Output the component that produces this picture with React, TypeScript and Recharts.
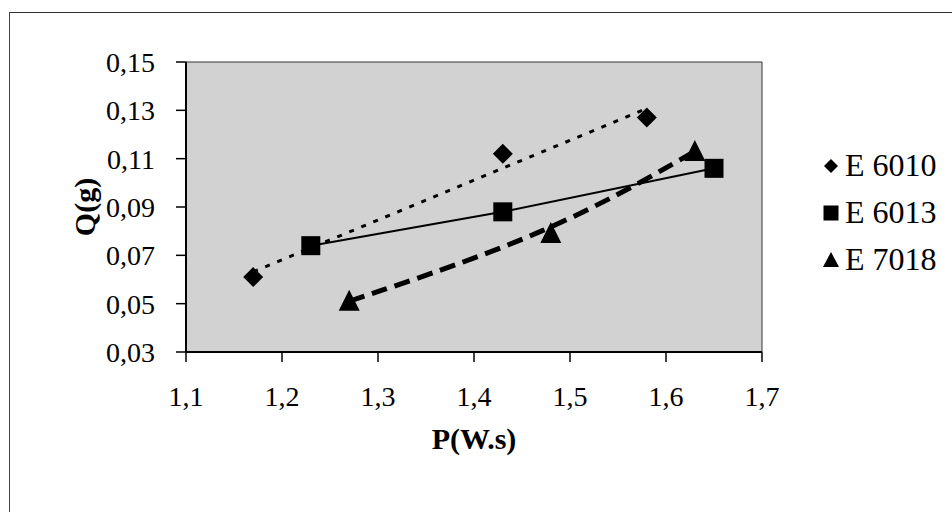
import React from 'react';
import { ScatterChart, Scatter, XAxis, YAxis, ReferenceArea, Legend } from 'recharts';

const xTicks = [1.1, 1.2, 1.3, 1.4, 1.5, 1.6, 1.7];
const yTicks = [0.03, 0.05, 0.07, 0.09, 0.11, 0.13, 0.15];

const seriesNames = ['E 6010', 'E 6013', 'E 7018'];

const e6010P = [1.17, 1.43, 1.58];
const e6010Q = [0.061, 0.112, 0.127];
const e6013P = [1.23, 1.43, 1.65];
const e6013Q = [0.074, 0.088, 0.106];
const e7018P = [1.27, 1.48, 1.63];
const e7018Q = [0.051, 0.079, 0.113];

const toRows = (ps: number[], qs: number[]) => ps.map((p, i) => ({ p, q: qs[i] }));
const e6010 = toRows(e6010P, e6010Q);
const e6013 = toRows(e6013P, e6013Q);
const e7018 = toRows(e7018P, e7018Q);

const FONT = "'Liberation Serif', 'Times New Roman', serif";
const fmt = (v: number, d: number) => v.toFixed(d).replace('.', ',');

const Diamond = (props: any) => {
  const { cx, cy } = props;
  const r = 10;
  return <polygon points={`${cx},${cy - r} ${cx + r},${cy} ${cx},${cy + r} ${cx - r},${cy}`} fill="#000" />;
};
const Square = (props: any) => {
  const { cx, cy } = props;
  const h = 9.5;
  return <rect x={cx - h} y={cy - h} width={2 * h} height={2 * h} fill="#000" />;
};
const Triangle = (props: any) => {
  const { cx, cy } = props;
  const w = 10.5;
  const h = 19;
  return <polygon points={`${cx},${cy - h / 2 - 2} ${cx + w},${cy + h / 2} ${cx - w},${cy + h / 2}`} fill="#000" />;
};

const legendIcon = (i: number) => {
  if (i === 0) return <polygon points="8,1 15,8 8,15 1,8" fill="#000" />;
  if (i === 1) return <rect x="0.5" y="0.5" width="15" height="15" fill="#000" />;
  return <polygon points="8,0 16,15 0,15" fill="#000" />;
};

const LegendContent = () => (
  <div style={{ fontFamily: FONT, fontSize: 32, color: '#000' }}>
    {seriesNames.map((n, i) => (
      <div key={n} style={{ display: 'flex', alignItems: 'center', height: 47, whiteSpace: 'nowrap' }}>
        <svg width={16} height={16} style={{ marginRight: 6, flex: 'none' }}>{legendIcon(i)}</svg>
        <span>{n}</span>
      </div>
    ))}
  </div>
);

const YTitle = (props: any) => {
  const vb = props.viewBox;
  const x = vb.x + 84;
  const y = vb.y + vb.height / 2;
  return (
    <text x={x} y={y} transform={`rotate(-90 ${x} ${y})`} textAnchor="middle" dominantBaseline="central"
      fontFamily={FONT} fontSize={30} fontWeight="bold" fill="#000">Q(g)</text>
  );
};
const XTitle = (props: any) => {
  const vb = props.viewBox;
  const x = vb.x + vb.width / 2;
  const y = vb.y + 97;
  return (
    <text x={x} y={y} textAnchor="middle" fontFamily={FONT} fontSize={30} fontWeight="bold" fill="#000">P(W.s)</text>
  );
};

export default function App() {
  return (
    <div style={{ position: 'absolute', left: 0, top: 0, width: 952, height: 512, background: '#fff', overflow: 'hidden' }}>
      <div style={{ position: 'absolute', left: 9, top: 12, width: 960, height: 520, borderTop: '1px solid #333', borderLeft: '1px solid #444' }} />
      <ScatterChart width={952} height={512} margin={{ top: 62, right: 190, bottom: 0, left: 0 }} style={{ position: 'absolute', left: 0, top: 0 }}>
        <XAxis type="number" dataKey="p" domain={[1.1, 1.7]} ticks={xTicks} allowDataOverflow
          height={160} tickSize={10} tickMargin={24}
          tickFormatter={(v: number) => fmt(v, 1)}
          axisLine={{ stroke: '#000', strokeWidth: 2 }} tickLine={{ stroke: '#000', strokeWidth: 1.5 }}
          tick={{ fontSize: 28, fontFamily: FONT, fill: '#000' }}
          label={{ content: XTitle }} />
        <YAxis type="number" dataKey="q" domain={[0.03, 0.15]} ticks={yTicks} allowDataOverflow
          width={186} tickSize={10} tickMargin={21}
          tickFormatter={(v: number) => fmt(v, 2)}
          axisLine={{ stroke: '#000', strokeWidth: 2 }} tickLine={{ stroke: '#000', strokeWidth: 1.5 }}
          tick={{ fontSize: 28, fontFamily: FONT, fill: '#000' }}
          label={{ content: YTitle }} />
        <ReferenceArea x1={1.1} x2={1.7} y1={0.03} y2={0.15} fill="#d2d2d2" fillOpacity={1} stroke="#333" strokeWidth={1} />
        <Legend layout="horizontal" align="center" verticalAlign="middle" content={LegendContent}
          wrapperStyle={{ left: 823, top: 142, width: 129 }} />
        <Scatter name={seriesNames[0]} data={e6010} shape={Diamond} isAnimationActive={false}
          line={{ stroke: '#000', strokeWidth: 3, strokeDasharray: '5 8' }} lineType="fitting" />
        <Scatter name={seriesNames[1]} data={e6013} shape={Square} isAnimationActive={false}
          line={{ stroke: '#000', strokeWidth: 2 }} lineType="joint" />
        <Scatter name={seriesNames[2]} data={e7018} shape={Triangle} isAnimationActive={false}
          line={{ stroke: '#000', strokeWidth: 5, strokeDasharray: '16 8' }} lineType="joint" lineJointType="basis" />
      </ScatterChart>
    </div>
  );
}
